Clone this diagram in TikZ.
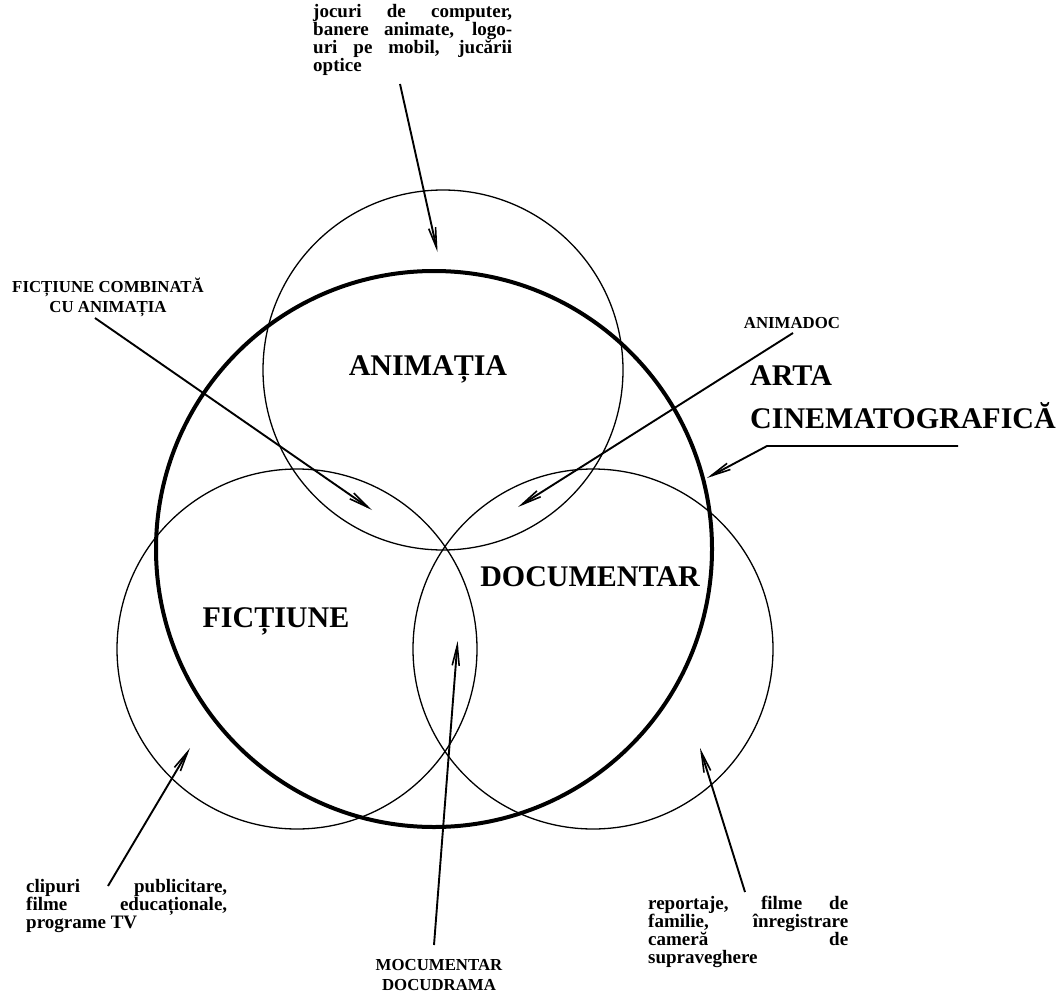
\documentclass[tikz,border=0pt]{standalone}
\usepackage{fontspec}
\setmainfont{Liberation Serif}
\usetikzlibrary{arrows.meta}
\newcommand\jline[2]{\hbox{\makebox[#1][s]{#2}}}
\newcommand\centrestack[1]{\vtop{\halign{\hfil##\hfil\cr#1\crcr}}}
\begin{document}
\begin{tikzpicture}[x=1pt,y=-1pt,
  thincirc/.style={circle,draw,line width=1.3pt,inner sep=0pt,minimum size=360pt},
  bigcirc/.style={circle,draw,line width=4pt,inner sep=0pt,minimum size=556pt},
  pointer/.style={line width=1.9pt,-{Straight Barb[length=20pt,width=7pt,line width=1.6pt]}},
  biglabel/.style={font=\fontsize{30}{34}\selectfont\bfseries,inner sep=0pt},
  smalllabel/.style={font=\fontsize{16.8}{20}\selectfont\bfseries,inner sep=0pt},
  body/.style={font=\fontsize{19}{18}\selectfont\bfseries,inner sep=0pt,anchor=base west}]
\useasboundingbox (0,0) rectangle (1064,992);

% circles
\node[bigcirc] (arta) at (434,549) {};
\node[thincirc] (canim) at (443,370) {};
\node[thincirc] (cfict) at (297,649) {};
\node[thincirc] (cdoc) at (593,649) {};

% main labels
\node[biglabel,anchor=base] (lanim) at (428,375) {ANIMAȚIA};
\node[biglabel,anchor=base] (lfict) at (276,627) {FICȚIUNE};
\node[biglabel,anchor=base] (ldoc) at (590,586) {DOCUMENTAR};
\node[biglabel,anchor=base west] (larta) at (750,385) {ARTA};
\node[biglabel,anchor=base west] (lcine) at (750,428) {CINEMATOGRAFICĂ};

% small labels
\node[smalllabel,anchor=base] (lfc) at (108,292) {\centrestack{FICȚIUNE COMBINATĂ\cr CU ANIMAȚIA}};
\node[smalllabel,anchor=base] (lad) at (792,328) {ANIMADOC};
\node[smalllabel,anchor=base] (lmoc) at (439,970) {\centrestack{MOCUMENTAR\cr DOCUDRAMA}};

% paragraphs
\node[body] (ltop) at (313,18) {\vtop{\jline{199pt}{jocuri de computer,}\jline{199pt}{banere animate, logo-}\jline{199pt}{uri pe mobil, jucării}\hbox{optice}}};
\node[body] (lclip) at (26,892) {\vtop{\jline{201pt}{clipuri publicitare,}\jline{201pt}{filme educaționale,}\hbox{programe TV}}};
\node[body] (lrep) at (648,909) {\vtop{\jline{200pt}{reportaje, filme de}\jline{200pt}{familie, înregistrare}\jline{200pt}{cameră de}\hbox{supraveghere}}};

% arrow ends
\coordinate (sTop) at (400,84);
\coordinate (tTop) at (437.5,252);
\coordinate (sFC) at (95,318);
\coordinate (tFC) at (372,510);
\coordinate (sAD) at (793,333);
\coordinate (tAD) at (518,507);
\coordinate (sClip) at (108,886);
\coordinate (tClip) at (190,748);
\coordinate (sMoc) at (434,945);
\coordinate (tMoc) at (457.6,641);
\coordinate (sRep) at (745,892);
\coordinate (tRep) at (700,748);
\coordinate (sArta) at (958,446);
\coordinate (kArta) at (767,446);
\coordinate (tArta) at (707,478);

\draw[pointer] (sTop) -- (tTop);
\draw[pointer] (sFC) -- (tFC);
\draw[pointer] (sAD) -- (tAD);
\draw[pointer] (sClip) -- (tClip);
\draw[pointer] (sMoc) -- (tMoc);
\draw[pointer] (sRep) -- (tRep);
\draw[pointer] (sArta) -- (kArta) -- (tArta);
\end{tikzpicture}
\end{document}
